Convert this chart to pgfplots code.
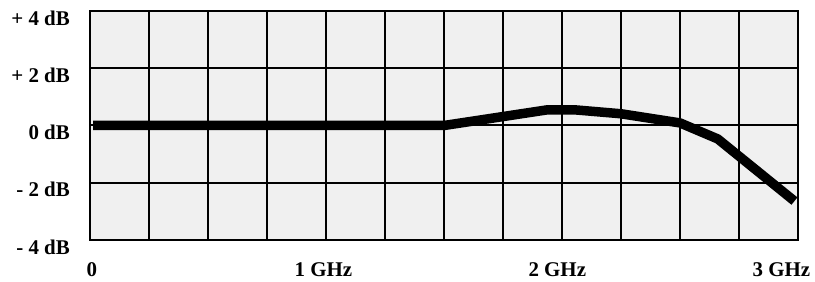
\documentclass[border=0pt]{standalone}
\usepackage{fontspec}
\setmainfont{Liberation Serif}
\usepackage{pgfplots}
\pgfplotsset{compat=1.18}
\definecolor{bggray}{RGB}{240,240,240}
\begin{document}
\begin{tikzpicture}
\path[use as bounding box] (0,0) rectangle (815bp,282bp);
\begin{axis}[
  at={(90bp,42bp)}, anchor=south west,
  scale only axis, width=708bp, height=229bp,
  xmin=0, xmax=3, ymin=-4, ymax=4,
  axis background/.style={fill=bggray},
  axis line style={line width=2.4bp, black},
  xtick={0.008,0.989,1.98,2.93},
  xticklabels={0,1 GHz,2 GHz,3 GHz},
  minor xtick={0.25,0.5,...,2.75},
  xminorgrids=true,
  minor grid style={line width=2bp, black},
  ytick={-4,-2,0,2,4},
  yticklabels={- 4 dB,- 2 dB,0 dB,+ 2 dB,+ 4 dB},
  ymajorgrids=true,
  major grid style={line width=2bp, black},
  major tick length=0pt, minor tick length=0pt,
  tick style={draw=none},
  /pgf/number format/assume math mode=true,
  ticklabel style={font=\fontsize{21}{24}\selectfont\bfseries, inner sep=0pt},
  xticklabel style={anchor=center, yshift=-30bp},
  yticklabel style={anchor=east, xshift=-20bp, yshift=-7bp},
  clip=false,
]
\addplot[black, line width=9.5bp, line join=miter, line cap=butt] coordinates {
  (0.013,0) (1.5,0) (1.94,0.55) (2.05,0.55) (2.25,0.41) (2.5,0.09) (2.66,-0.47) (2.985,-2.64)
};
\end{axis}
\end{tikzpicture}
\end{document}
